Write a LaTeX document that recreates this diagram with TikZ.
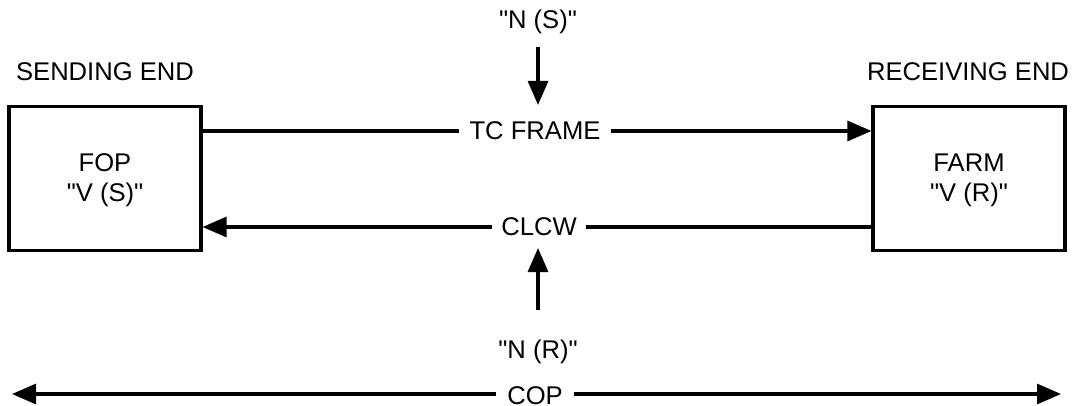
\documentclass[tikz,border=0pt]{standalone}
\usepackage{fontspec}
\setmainfont{Liberation Sans}[Ligatures=TeXOff]
\usetikzlibrary{arrows.meta}
\begin{document}
\begin{tikzpicture}[x=0.75pt,y=-0.75pt,
  font=\fontsize{19.2}{22.5}\selectfont,
  every node/.style={inner sep=0pt, align=center},
  wire/.style={line width=2.3pt},
  tip/.style={-{Triangle[length=18pt,width=15pt]}},
  endbox/.style={draw, line width=2.3pt, minimum width=144pt, minimum height=108.5pt},
  flowlabel/.style={inner xsep=8pt}]
\useasboundingbox (0,0) rectangle (1073,406);

% end points of the link
\node[endbox] (fop)  at (105,178.5) {};
\node[endbox] (farm) at (969,178.5) {};
\node at (105,180) {FOP\\"V (S)"};
\node at (969,180) {FARM\\"V (R)"};
\node (send) at (105,72) {SENDING END};
\node (recv) at (968,72) {RECEIVING END};

% forward path: TC frames
\node[flowlabel] (tcf) at (535,131) {TC FRAME};
\draw[wire] (fop.east |- tcf) -- (tcf.west);
\draw[wire,tip] (tcf.east) -- (farm.west |- tcf);

% return path: CLCW reports
\node[flowlabel,inner xsep=7pt] (clcw) at (539,227) {CLCW};
\draw[wire] (farm.west |- clcw) -- (clcw.east);
\draw[wire,tip] (clcw.west) -- (fop.east |- clcw);

% sequence number inputs
\node (ns) at (538,22) {"N (S)"};
\coordinate (nsin) at (538,47);
\coordinate (nsout) at (538,105);
\draw[wire,tip] (nsin) -- (nsout);

\node (nr) at (538,352) {"N (R)"};
\coordinate (nrin) at (538,310);
\coordinate (nrout) at (538,248);
\draw[wire,tip] (nrin) -- (nrout);

% span of the whole protocol
\node[flowlabel,inner xsep=8pt] (cop) at (535,396) {COP};
\coordinate (copl) at (12,394);
\coordinate (copr) at (1061,394);
\draw[wire,tip] (cop.west |- copl) -- (copl);
\draw[wire,tip] (cop.east |- copr) -- (copr);
\end{tikzpicture}
\end{document}
